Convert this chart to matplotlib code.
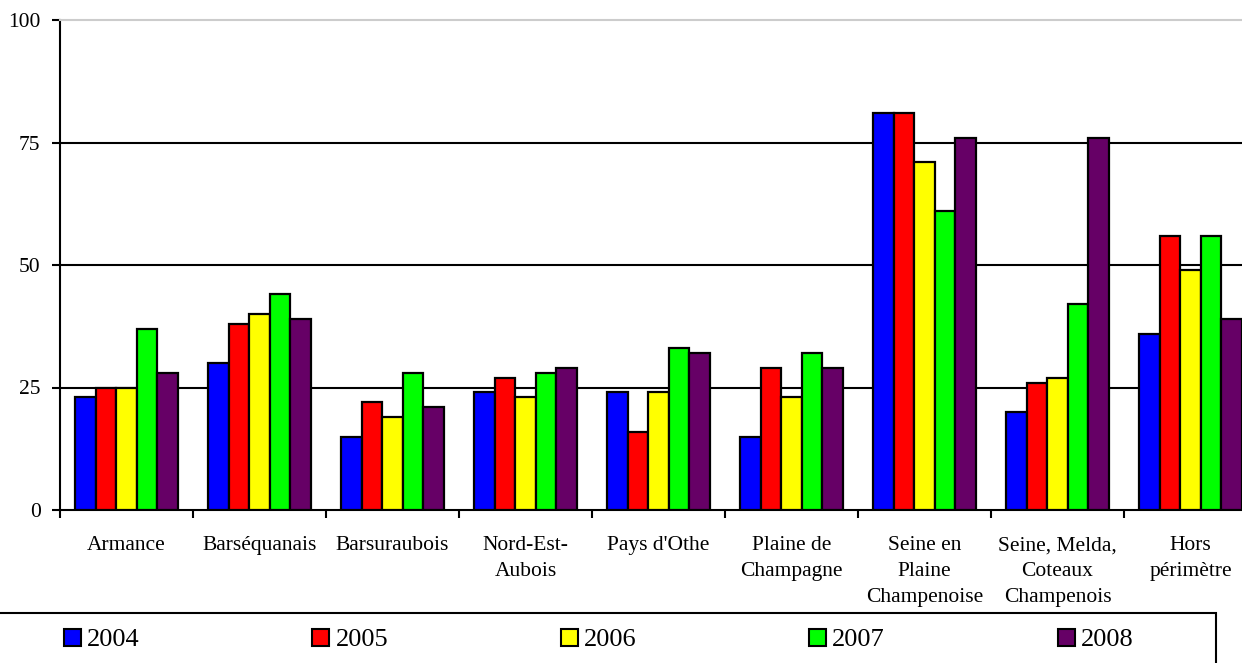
import numpy as np
import matplotlib
matplotlib.use("Agg")
import matplotlib.pyplot as plt
from matplotlib.patches import Rectangle, Patch

plt.rcParams['font.family'] = ['Liberation Serif', 'DejaVu Serif']

categories = ["Armance", "Barséquanais", "Barsuraubois", "Nord-Est-\nAubois",
              "Pays d'Othe", "Plaine de\nChampagne", "Seine en\nPlaine\nChampenoise",
              "Seine, Melda,\nCoteaux\nChampenois", "Hors\npérimètre"]
years = ["2004", "2005", "2006", "2007", "2008"]
v2004 = [23, 30, 15, 24, 24, 15, 81, 20, 36]
v2005 = [25, 38, 22, 27, 16, 29, 81, 26, 56]
v2006 = [25, 40, 19, 23, 24, 23, 71, 27, 49]
v2007 = [37, 44, 28, 28, 33, 32, 61, 42, 56]
v2008 = [28, 39, 21, 29, 32, 29, 76, 76, 39]
series = [v2004, v2005, v2006, v2007, v2008]
colors = ["#0000FF", "#FF0000", "#FFFF00", "#00FF00", "#660066"]

fig = plt.figure(figsize=(12.42, 6.63), dpi=100)
ax = fig.add_axes([60 / 1242, 1 - 510 / 663, 1197 / 1242, 490 / 663])

x = np.arange(len(categories)) + 0.5
bw = 0.155
for j, vals in enumerate(series):
    ax.bar(x + (j - 2) * bw, vals, width=bw, color=colors[j],
           edgecolor="black", linewidth=1.6, zorder=3)

# gridlines
for g in [25, 50, 75]:
    ax.axhline(g, color="black", lw=1.5, zorder=1)

ax.set_xlim(0, 9)
ax.set_ylim(0, 100)
ax.set_yticks([0, 25, 50, 75, 100])
ax.set_xticks(np.arange(10))
ax.set_xticklabels([])
ax.set_xticks(x, minor=True)
ax.set_xticklabels(categories, minor=True, fontsize=15.5, linespacing=1.5)
ax.tick_params(axis="x", which="minor", length=0, pad=19)
ax.tick_params(axis="x", which="major", length=6, width=1.5, direction="out")
ax.tick_params(axis="y", length=6, width=1.5, direction="out", labelsize=15.5, pad=8)

ax.spines["right"].set_visible(False)
ax.spines["top"].set_color("#cccccc")
ax.spines["top"].set_linewidth(1.5)
ax.spines["left"].set_linewidth(1.5)
ax.spines["bottom"].set_linewidth(1.5)

# legend box
fig.patches.append(Rectangle((-0.02, -0.1), 0.02 + 1216 / 1242, 0.1 + 1 - 613 / 663,
                             transform=fig.transFigure, facecolor="white",
                             edgecolor="black", linewidth=1.5, zorder=0))
handles = [Patch(facecolor=c, edgecolor="black", linewidth=1.5) for c in colors]
fig.legend(handles, years, loc="center left", bbox_to_anchor=(64 / 1242, 1 - 640 / 663),
           ncol=5, frameon=False, fontsize=19, borderpad=0, borderaxespad=0,
           handlelength=0.64, handleheight=0.64, handletextpad=0.23, columnspacing=6.55)

fig.savefig("out.png", dpi=100)
